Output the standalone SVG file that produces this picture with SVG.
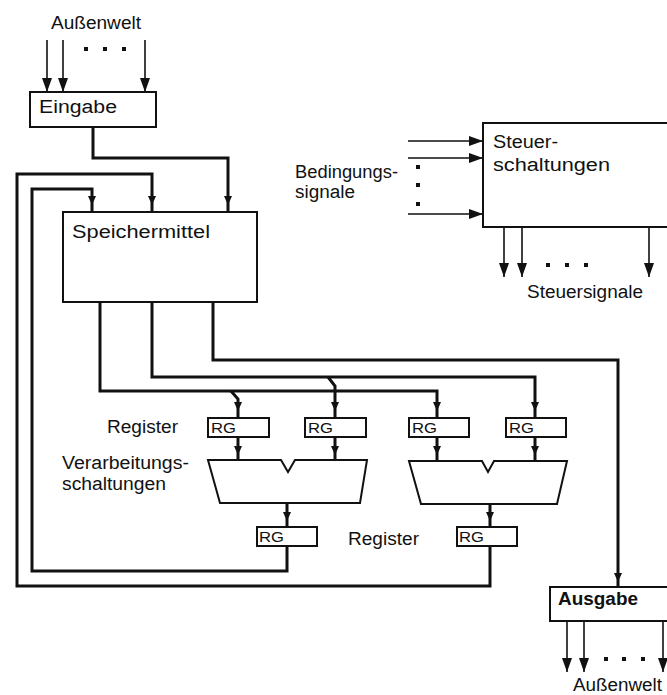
<svg xmlns="http://www.w3.org/2000/svg" width="667" height="695" viewBox="0 0 667 695">
<style>
  .box { fill: #fff; stroke: #111; stroke-width: 2; }
  .bus { fill: none; stroke: #111; stroke-width: 3; stroke-linejoin: miter; }
  .thin { fill: none; stroke: #111; stroke-width: 1.6; marker-end: url(#arr); }
  .t { font-family: "Liberation Sans", Arial, sans-serif; font-size: 18px; fill: #111; }
  .rg { font-family: "Liberation Sans", Arial, sans-serif; font-size: 15px; fill: #111; }
</style>
<defs>
  <marker id="arr" viewBox="0 0 14 10" refX="14" refY="5" markerWidth="14" markerHeight="10" markerUnits="userSpaceOnUse" orient="auto">
    <path d="M0,0 L14,5 L0,10 z" fill="#111"/>
  </marker>
  <path id="sa" d="M-4,-9 L4,-9 L0,0 Z" fill="#111"/>
  <rect id="dt" x="-2" y="-2" width="4" height="4" fill="#111"/>
</defs>

<g id="connectors">
  <polyline class="bus" points="93,127 93,158 228,158 228,212"/>
  <polyline class="bus" points="490,546 490,586 17,586 17,174 152,174 152,212"/>
  <polyline class="bus" points="287,546 287,571 32,571 32,189 92,189 92,212"/>
  <polyline class="bus" points="213,302 213,360 618,360 618,587"/>
  <polyline class="bus" points="152,302 152,377 535,377 535,418"/>
  <polyline class="bus" points="328,377 335,386 335,418"/>
  <polyline class="bus" points="100,302 100,391 437,391 437,418"/>
  <polyline class="bus" points="231,391 238,399 238,418"/>
  <line class="bus" x1="238" y1="437" x2="238" y2="460"/>
  <line class="bus" x1="335" y1="437" x2="335" y2="460"/>
  <line class="bus" x1="437" y1="437" x2="437" y2="461"/>
  <line class="bus" x1="535" y1="437" x2="535" y2="461"/>
  <line class="bus" x1="287" y1="503" x2="287" y2="527"/>
  <line class="bus" x1="490" y1="504" x2="490" y2="527"/>
  <use href="#sa" x="92" y="205"/>
  <use href="#sa" x="152" y="205"/>
  <use href="#sa" x="228" y="205"/>
  <use href="#sa" x="238" y="411"/>
  <use href="#sa" x="335" y="411"/>
  <use href="#sa" x="437" y="411"/>
  <use href="#sa" x="535" y="411"/>
  <use href="#sa" x="238" y="455"/>
  <use href="#sa" x="335" y="455"/>
  <use href="#sa" x="437" y="455"/>
  <use href="#sa" x="535" y="455"/>
  <use href="#sa" x="287" y="521"/>
  <use href="#sa" x="490" y="521"/>
  <use href="#sa" x="618" y="582"/>
  <line class="thin" x1="47" y1="40" x2="47" y2="92"/>
  <line class="thin" x1="63" y1="40" x2="63" y2="92"/>
  <line class="thin" x1="145" y1="40" x2="145" y2="92"/>
  <line class="thin" x1="408" y1="141" x2="483" y2="141"/>
  <line class="thin" x1="408" y1="158" x2="483" y2="158"/>
  <line class="thin" x1="408" y1="214" x2="483" y2="214"/>
  <line class="thin" x1="504" y1="227" x2="504" y2="277"/>
  <line class="thin" x1="522" y1="227" x2="522" y2="277"/>
  <line class="thin" x1="649" y1="227" x2="649" y2="277"/>
  <line class="thin" x1="567" y1="621" x2="567" y2="672"/>
  <line class="thin" x1="584" y1="621" x2="584" y2="672"/>
  <line class="thin" x1="663" y1="621" x2="663" y2="672"/>
  <use href="#dt" x="86" y="49"/><use href="#dt" x="105" y="49"/><use href="#dt" x="124" y="49"/>
  <use href="#dt" x="418" y="167"/><use href="#dt" x="418" y="185"/><use href="#dt" x="418" y="204"/>
  <use href="#dt" x="548" y="265"/><use href="#dt" x="567" y="265"/><use href="#dt" x="586" y="265"/>
  <use href="#dt" x="606" y="659"/><use href="#dt" x="624" y="659"/><use href="#dt" x="643" y="659"/>
</g>

<g id="aussenwelt-in">
  <text class="t" x="51" y="29" font-size="17" textLength="90" lengthAdjust="spacingAndGlyphs">Außenwelt</text>
</g>
<g id="eingabe">
  <rect class="box" x="30" y="92" width="126" height="35"/>
  <text class="t" x="39" y="113" font-size="19" textLength="78" lengthAdjust="spacingAndGlyphs">Eingabe</text>
</g>
<g id="speichermittel">
  <rect class="box" x="63" y="212" width="194" height="90"/>
  <text class="t" x="72" y="238" font-size="20" textLength="138" lengthAdjust="spacingAndGlyphs">Speichermittel</text>
</g>
<g id="steuerschaltungen">
  <rect class="box" x="483" y="123" width="190" height="104"/>
  <text class="t" x="493" y="148" font-size="19" textLength="65" lengthAdjust="spacingAndGlyphs">Steuer-</text>
  <text class="t" x="493" y="171" font-size="19" textLength="117" lengthAdjust="spacingAndGlyphs">schaltungen</text>
</g>
<g id="bedingungssignale">
  <text class="t" x="295" y="178" textLength="103" lengthAdjust="spacingAndGlyphs">Bedingungs-</text>
  <text class="t" x="295" y="198" textLength="60" lengthAdjust="spacingAndGlyphs">signale</text>
</g>
<g id="steuersignale">
  <text class="t" x="527" y="298" textLength="116" lengthAdjust="spacingAndGlyphs">Steuersignale</text>
</g>
<g id="register-label-1">
  <text class="t" x="107" y="433" textLength="71" lengthAdjust="spacingAndGlyphs">Register</text>
</g>
<g id="verarbeitung-label">
  <text class="t" x="62" y="469" font-size="17" textLength="127" lengthAdjust="spacingAndGlyphs">Verarbeitungs-</text>
  <text class="t" x="62" y="490" font-size="17" textLength="104" lengthAdjust="spacingAndGlyphs">schaltungen</text>
</g>
<g id="register-label-2">
  <text class="t" x="348" y="545" textLength="71" lengthAdjust="spacingAndGlyphs">Register</text>
</g>
<g id="rg1"><rect class="box" x="208" y="418" width="61" height="19"/><text class="rg" x="211" y="433" textLength="25" lengthAdjust="spacingAndGlyphs">RG</text></g>
<g id="rg2"><rect class="box" x="305" y="418" width="61" height="19"/><text class="rg" x="308" y="433" textLength="25" lengthAdjust="spacingAndGlyphs">RG</text></g>
<g id="rg3"><rect class="box" x="409" y="418" width="60" height="19"/><text class="rg" x="412" y="433" textLength="25" lengthAdjust="spacingAndGlyphs">RG</text></g>
<g id="rg4"><rect class="box" x="506" y="418" width="60" height="19"/><text class="rg" x="509" y="433" textLength="25" lengthAdjust="spacingAndGlyphs">RG</text></g>
<g id="alu1"><path class="box" d="M208,460 L281,460 L288,472 L295,460 L367,460 L360,503 L220,503 Z"/></g>
<g id="alu2"><path class="box" d="M409,461 L482,461 L488,472 L494,461 L567,461 L557,504 L421,504 Z"/></g>
<g id="rg5"><rect class="box" x="257" y="527" width="60" height="19"/><text class="rg" x="259" y="542" textLength="25" lengthAdjust="spacingAndGlyphs">RG</text></g>
<g id="rg6"><rect class="box" x="457" y="527" width="60" height="19"/><text class="rg" x="459" y="542" textLength="25" lengthAdjust="spacingAndGlyphs">RG</text></g>
<g id="ausgabe">
  <rect class="box" x="550" y="587" width="125" height="34"/>
  <text class="t" x="558" y="605" font-size="17" font-weight="bold" textLength="80" lengthAdjust="spacingAndGlyphs">Ausgabe</text>
</g>
<g id="aussenwelt-out">
  <text class="t" x="573" y="691" font-size="17" textLength="89" lengthAdjust="spacingAndGlyphs">Außenwelt</text>
</g>
</svg>
